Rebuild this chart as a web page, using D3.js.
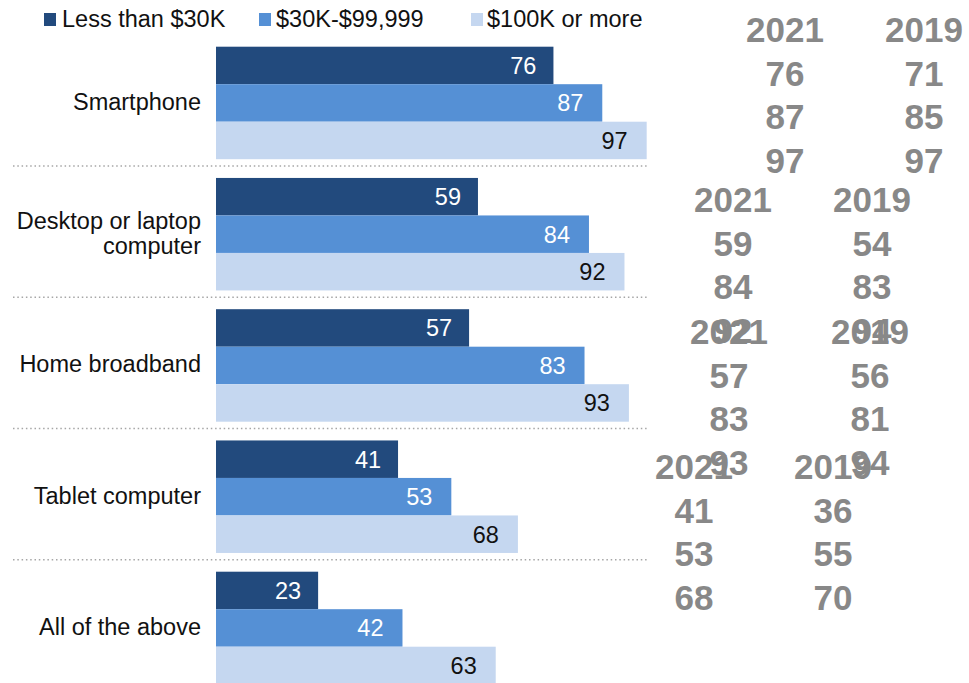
<!DOCTYPE html>
<html>
<head>
<meta charset="utf-8">
<script src="https://cdn.jsdelivr.net/npm/d3@7/dist/d3.min.js"></script>
<style>
  html, body { margin: 0; padding: 0; background: #fff; }
  svg { display: block; }
  text { font-family: "Liberation Sans", Arial, Helvetica, sans-serif; }
</style>
</head>
<body>
<svg id="chart" width="969" height="683"></svg>
<script>
// Device / service adoption by household income (%)
const categories = ["Smartphone", "Desktop or laptop computer", "Home broadband", "Tablet computer", "All of the above"];
const categoryLines = [["Smartphone"], ["Desktop or laptop", "computer"], ["Home broadband"], ["Tablet computer"], ["All of the above"]];
const seriesNames = ["Less than $30K", "$30K-$99,999", "$100K or more"];
const lessThan30K = [76, 59, 57, 41, 23];
const from30Kto99K = [87, 84, 83, 53, 42];
const over100K = [97, 92, 93, 68, 63];

// Year comparison tables shown beside the first four categories
const tableYears = ["2021", "2019"];
const values2021 = [[76, 87, 97], [59, 84, 92], [57, 83, 93], [41, 53, 68]];
const values2019 = [[71, 85, 97], [54, 83, 94], [56, 81, 94], [36, 55, 70]];

// Layout
const W = 969, H = 683;
const barLeft = 216, barRight = 660;
const groupTop = 46.7, groupStep = 131.25, groupBand = 112.5;
const colors = ["#224a7d", "#5590d5", "#c5d7f0"];
const labelColors = ["#ffffff", "#ffffff", "#111111"];
// anchor (column centres and header baseline) for each comparison table
const tableAnchors = [
  { x1: 785, x2: 924, y: 42 },
  { x1: 733, x2: 872, y: 212 },
  { x1: 729, x2: 870, y: 344 },
  { x1: 694, x2: 833, y: 479 }
];
const tableRowStep = 43.5;

const seriesValues = [lessThan30K, from30Kto99K, over100K];
const rows = categories.map((c, i) => ({
  category: c,
  lines: categoryLines[i],
  values: seriesNames.map((s, j) => ({ series: s, idx: j, value: seriesValues[j][i] }))
}));

const svg = d3.select("#chart");

const x = d3.scaleLinear().domain([0, 100]).range([barLeft, barRight]);
const pad = (groupStep - groupBand) / groupStep;
const y = d3.scaleBand()
  .domain(categories)
  .range([groupTop - (groupStep - groupBand) / 2, groupTop - (groupStep - groupBand) / 2 + groupStep * categories.length])
  .paddingInner(pad)
  .paddingOuter(pad / 2);
const yInner = d3.scaleBand().domain(seriesNames).range([0, y.bandwidth()]);

// Dotted separators between groups
svg.append("g").selectAll("line")
  .data(categories.slice(0, -1))
  .join("line")
  .attr("x1", 13).attr("x2", 649)
  .attr("y1", d => y(d) + y.bandwidth() + 6.8)
  .attr("y2", d => y(d) + y.bandwidth() + 6.8)
  .attr("stroke", "#a6a6a6")
  .attr("stroke-width", 1.3)
  .attr("stroke-dasharray", "1.5,2.8");

// Bars
const groups = svg.append("g").selectAll("g")
  .data(rows)
  .join("g")
  .attr("transform", d => `translate(0,${y(d.category)})`);

groups.selectAll("rect")
  .data(d => d.values)
  .join("rect")
  .attr("x", x(0))
  .attr("y", d => yInner(d.series))
  .attr("width", d => x(d.value) - x(0))
  .attr("height", yInner.bandwidth())
  .attr("fill", d => colors[d.idx]);

groups.selectAll("text.val")
  .data(d => d.values)
  .join("text")
  .attr("class", "val")
  .attr("x", d => x(d.value) - (d.idx === 0 ? 17 : 19))
  .attr("y", d => yInner(d.series) + yInner.bandwidth() / 2)
  .attr("dy", "0.36em")
  .attr("text-anchor", "end")
  .attr("font-size", 23.5)
  .attr("fill", d => labelColors[d.idx])
  .text(d => d.value);

// Category labels
groups.append("text")
  .attr("text-anchor", "end")
  .attr("font-size", 23.5)
  .attr("fill", "#111")
  .each(function (d) {
    const t = d3.select(this);
    const n = d.lines.length;
    d.lines.forEach((line, k) => {
      t.append("tspan")
        .attr("x", barLeft - 15)
        .attr("y", y.bandwidth() / 2 + (k - (n - 1) / 2) * 25)
        .attr("dy", "0.3em")
        .text(line);
    });
  });

// Legend
const legendItems = [
  { name: seriesNames[0], sx: 44, tx: 62 },
  { name: seriesNames[1], sx: 259, tx: 276 },
  { name: seriesNames[2], sx: 471, tx: 487 }
];
const legend = svg.append("g").selectAll("g")
  .data(legendItems)
  .join("g");
legend.append("rect")
  .attr("x", d => d.sx).attr("y", 13)
  .attr("width", 12).attr("height", 13)
  .attr("fill", (d, i) => colors[i]);
legend.append("text")
  .attr("x", d => d.tx).attr("y", 27)
  .attr("font-size", 23.5)
  .attr("fill", "#111")
  .text(d => d.name);

// Year comparison tables
const tables = svg.append("g").selectAll("g")
  .data(tableAnchors.map((a, i) => ({ a, v21: values2021[i], v19: values2019[i] })))
  .join("g")
  .attr("font-size", 35)
  .attr("font-weight", "bold")
  .attr("fill", "#888888")
  .attr("text-anchor", "middle");

tables.each(function (d) {
  const g = d3.select(this);
  const cols = [{ cx: d.a.x1, head: tableYears[0], vals: d.v21 }, { cx: d.a.x2, head: tableYears[1], vals: d.v19 }];
  cols.forEach(c => {
    g.append("text").attr("x", c.cx).attr("y", d.a.y).text(c.head);
    c.vals.forEach((v, k) => {
      g.append("text").attr("x", c.cx).attr("y", d.a.y + (k + 1) * tableRowStep).text(v);
    });
  });
});
</script>
</body>
</html>
